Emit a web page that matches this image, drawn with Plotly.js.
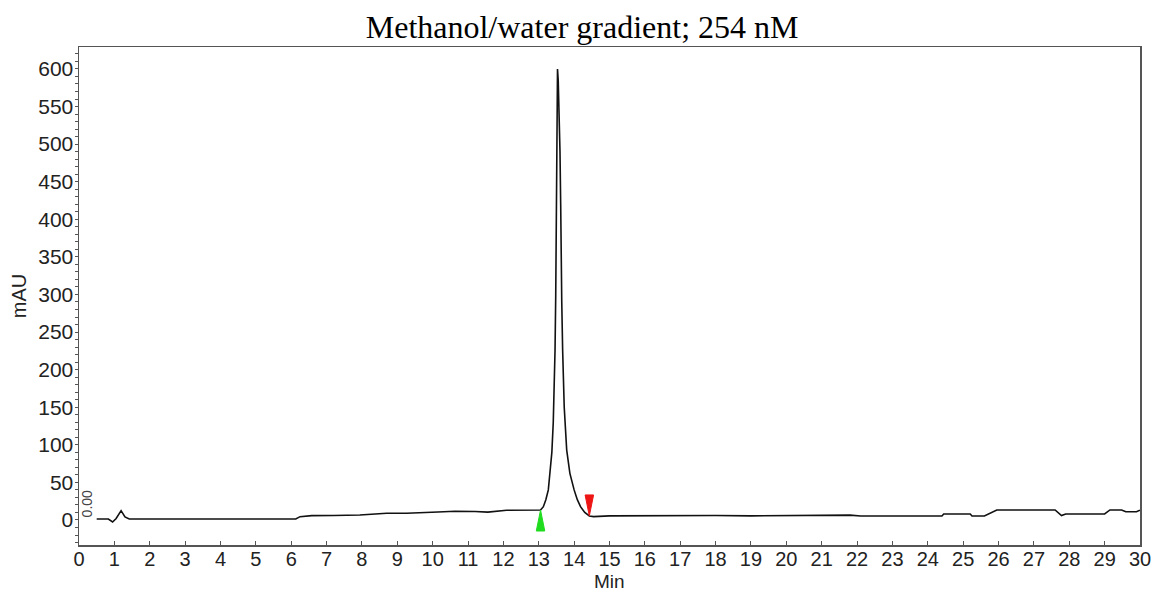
<!DOCTYPE html>
<html>
<head>
<meta charset="utf-8">
<script src="https://cdn.plot.ly/plotly-3.0.1.min.js"></script>
<style>html,body{margin:0;padding:0;background:#fff;}#chart{width:1155px;height:592px;}</style>
</head>
<body>
<div id="chart"></div>
<script>
// Retention time (min)
const timeMin = [0.50,0.83,0.95,1.05,1.19,1.30,1.42,3.0,5.0,6.13,6.25,6.58,7.2,7.94,8.7,9.26,10.15,10.63,11.2,11.56,12.09,12.7,12.85,13.0,13.05,13.13,13.20,13.27,13.32,13.37,13.41,13.44,13.46,13.48,13.49,13.50,13.51,13.52,13.53,13.55,13.57,13.60,13.62,13.63,13.65,13.675,13.72,13.79,13.88,14.00,14.09,14.18,14.30,14.43,14.55,15.0,16.0,17.0,18.0,19.0,20.0,21.0,21.8,22.1,24.4,24.45,25.2,25.25,25.6,25.95,27.6,27.78,27.9,29.0,29.15,29.48,29.6,29.9,30.0];
// Absorbance (mAU)
const signalMAU = [1.2,1.2,-2.7,2,12.4,4,1.2,1.2,1.2,1.2,4.4,5.8,6.0,6.7,8.9,8.9,10.6,11.5,11.3,10.5,12.9,13.3,12.5,12.8,13.3,17.7,27,40,62,90,130,180,226,300,359,430,480,560,600,585,550,490,420,360,290,226,150,93,62,40,27,17.7,10,5.3,4.5,5.5,5.8,6,6,5.5,5.5,6.5,6.5,5.3,5.3,8,8,5.3,5.3,13.3,13.3,5.8,8,8,13.3,13.3,11,11,13];
// Peak integration markers
const peakStart = {t: 13.05, v: 13.3};
const peakEnd = {t: 14.43, v: 5.3};
const xTicks = [0,1,2,3,4,5,6,7,8,9,10,11,12,13,14,15,16,17,18,19,20,21,22,23,24,25,26,27,28,29,30];

const halfW = 0.12, tall = 28;
const traces = [
  {x: timeMin, y: signalMAU, type: 'scatter', mode: 'lines',
   line: {color: '#111', width: 1.6}, hoverinfo: 'skip', showlegend: false},
  {x: [peakStart.t, peakStart.t - halfW, peakStart.t + halfW, peakStart.t],
   y: [peakStart.v, peakStart.v - tall, peakStart.v - tall, peakStart.v],
   type: 'scatter', mode: 'lines', fill: 'toself', fillcolor: '#1fdc1f',
   line: {color: '#1fdc1f', width: 1}, showlegend: false, hoverinfo: 'skip'},
  {x: [peakEnd.t, peakEnd.t - halfW, peakEnd.t + halfW, peakEnd.t],
   y: [peakEnd.v, peakEnd.v + tall, peakEnd.v + tall, peakEnd.v],
   type: 'scatter', mode: 'lines', fill: 'toself', fillcolor: '#ee1515',
   line: {color: '#ee1515', width: 1}, showlegend: false, hoverinfo: 'skip'}
];

const sans = 'Liberation Sans, Arial, sans-serif';
const layout = {
  width: 1155, height: 592,
  margin: {l: 79, r: 15, t: 47, b: 47},
  paper_bgcolor: '#fff', plot_bgcolor: '#fff',
  title: {text: 'Methanol/water gradient; 254 nM', x: 0.504, xanchor: 'center', y: 0.955, yanchor: 'middle',
          font: {family: 'Liberation Serif, Times New Roman, serif', size: 32, color: '#000'}},
  xaxis: {range: [0, 30], tickvals: xTicks, ticktext: xTicks.map(String),
          ticks: 'inside', ticklen: 4, tickcolor: '#555', ticklabelstandoff: -5,
          showgrid: false, zeroline: false, showline: true, linecolor: '#555', linewidth: 1.5, mirror: true,
          tickfont: {family: sans, size: 20, color: '#222'},
          title: {text: '', font: {family: sans, size: 20, color: '#222'}}},
  yaxis: {range: [-33.3, 629.2], tick0: 0, dtick: 50,
          ticks: 'outside', ticklen: 3, tickcolor: '#555', ticklabelstandoff: -3,
          minor: {dtick: 10, ticks: 'outside', ticklen: 3, tickcolor: '#555'},
          showgrid: false, zeroline: false, showline: true, linecolor: '#555', linewidth: 1.5, mirror: true,
          tickfont: {family: sans, size: 21, color: '#222'},
          title: {text: 'mAU', standoff: 6, font: {family: sans, size: 20, color: '#222'}}},
  annotations: [
    {text: '0.00', xref: 'paper', yref: 'y', x: 0.0075, y: 22, textangle: -90, showarrow: false,
     xanchor: 'center', yanchor: 'middle',
     font: {family: sans, size: 14, color: '#444'}},
    {text: 'Min', xref: 'paper', yref: 'paper', x: 0.5, y: -0.073, showarrow: false,
     xanchor: 'center', yanchor: 'middle',
     font: {family: sans, size: 19, color: '#222'}}
  ]
};

Plotly.newPlot('chart', traces, layout, {staticPlot: true, displayModeBar: false});
</script>
</body>
</html>
